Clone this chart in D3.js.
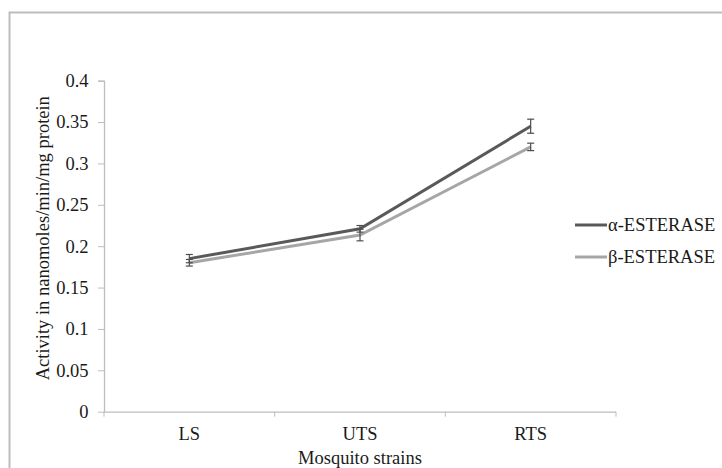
<!DOCTYPE html>
<html>
<head>
<meta charset="utf-8">
<script src="https://cdn.jsdelivr.net/npm/d3@7"></script>
<style>
  body { margin: 0; background: #fff; }
  text { font-family: "Liberation Serif", "Times New Roman", serif; fill: #1a1a1a; }
</style>
</head>
<body>
<div id="chart"></div>
<script>
// Data
const strains = ["LS", "UTS", "RTS"];
const seriesNames = ["α-ESTERASE", "β-ESTERASE"];
const alphaValues = [0.185, 0.221, 0.345];
const alphaErrors = [0.005, 0.004, 0.0085];
const betaValues = [0.180, 0.2135, 0.320];
const betaErrors = [0.004, 0.007, 0.0045];
const yTicks = [0, 0.05, 0.1, 0.15, 0.2, 0.25, 0.3, 0.35, 0.4];
const seriesColors = ["#595959", "#a6a6a6"];

const W = 722, H = 468;
const margin = { top: 80.7, right: 106, bottom: 56.3, left: 104 };
const width = W - margin.left - margin.right;
const height = H - margin.top - margin.bottom;
const fontSize = "18.5px";

const svg = d3.select("#chart")
  .append("svg")
    .attr("width", W)
    .attr("height", H);

// outer frame
svg.append("path")
  .attr("d", `M9.5,${H + 2} V12.5 H${W + 2}`)
  .attr("fill", "none")
  .attr("stroke", "#bdbdbd")
  .attr("stroke-width", 2);

const g = svg.append("g")
  .attr("transform", `translate(${margin.left},${margin.top})`);

const x = d3.scaleBand()
  .domain(strains)
  .range([0, width]);

const y = d3.scaleLinear()
  .domain([0, 0.4])
  .range([height, 0]);

// y axis
const yAxis = g.append("g")
  .call(d3.axisLeft(y)
    .tickValues(yTicks)
    .tickFormat(d => d === 0 ? "0" : String(+d.toFixed(2)))
    .tickSize(6)
    .tickPadding(9.5));

// x axis
const xAxis = g.append("g")
  .attr("transform", `translate(0,${height})`)
  .call(d3.axisBottom(x).tickSize(0).tickPadding(15));

// category dividers on x axis
xAxis.selectAll(".divider")
  .data([...strains.map(s => x(s)), width])
  .enter().append("line")
    .attr("class", "divider")
    .attr("x1", d => d).attr("x2", d => d)
    .attr("y1", 0).attr("y2", 5)
    .attr("stroke", "#bdbdbd");

[yAxis, xAxis].forEach(a => {
  a.select(".domain").attr("stroke", "#bdbdbd").attr("stroke-width", 1.3);
  a.selectAll(".tick line").attr("stroke", "#bdbdbd");
  a.selectAll(".tick text")
    .style("font-family", "'Liberation Serif', 'Times New Roman', serif")
    .style("font-size", fontSize)
    .attr("fill", "#1a1a1a");
});
yAxis.select(".domain").attr("d", `M-6,0.5H0.5V${height}`);
xAxis.select(".domain").attr("d", `M0,0.5H${width}`);

// axis titles
g.append("text")
  .attr("x", width / 2)
  .attr("y", height + 52.3)
  .attr("text-anchor", "middle")
  .style("font-size", fontSize)
  .text("Mosquito strains");

g.append("text")
  .attr("transform", `translate(-55,${height / 2 - 8}) rotate(-90)`)
  .attr("text-anchor", "middle")
  .style("font-size", fontSize)
  .text("Activity in nanomoles/min/mg protein");

// series
const series = [
  { name: seriesNames[0], values: alphaValues, errors: alphaErrors, color: seriesColors[0] },
  { name: seriesNames[1], values: betaValues, errors: betaErrors, color: seriesColors[1] }
];

const cx = s => x(s) + x.bandwidth() / 2;

const line = d3.line()
  .x((d, i) => cx(strains[i]))
  .y(d => y(d));

// draw beta first so alpha sits on top
[series[1], series[0]].forEach(s => {
  g.append("path")
    .datum(s.values)
    .attr("fill", "none")
    .attr("stroke", s.color)
    .attr("stroke-width", 3)
    .attr("d", line);
});

series.forEach(s => {
  const eb = g.append("g").attr("stroke", "#4d4d4d").attr("stroke-width", 1.2);
  s.values.forEach((v, i) => {
    const px = cx(strains[i]);
    const y0 = y(v - s.errors[i]), y1 = y(v + s.errors[i]);
    eb.append("line").attr("x1", px).attr("x2", px).attr("y1", y0).attr("y2", y1);
    eb.append("line").attr("x1", px - 3.5).attr("x2", px + 3.5).attr("y1", y0).attr("y2", y0);
    eb.append("line").attr("x1", px - 3.5).attr("x2", px + 3.5).attr("y1", y1).attr("y2", y1);
  });
});

// legend
const legend = svg.append("g")
  .attr("transform", "translate(575,225)");

series.forEach((s, i) => {
  const row = legend.append("g").attr("transform", `translate(0,${i * 32})`);
  row.append("line")
    .attr("x1", 0).attr("x2", 32)
    .attr("stroke", s.color)
    .attr("stroke-width", 3);
  row.append("text")
    .attr("x", 33)
    .attr("dy", "0.35em")
    .style("font-size", fontSize)
    .text(s.name);
});
</script>
</body>
</html>
